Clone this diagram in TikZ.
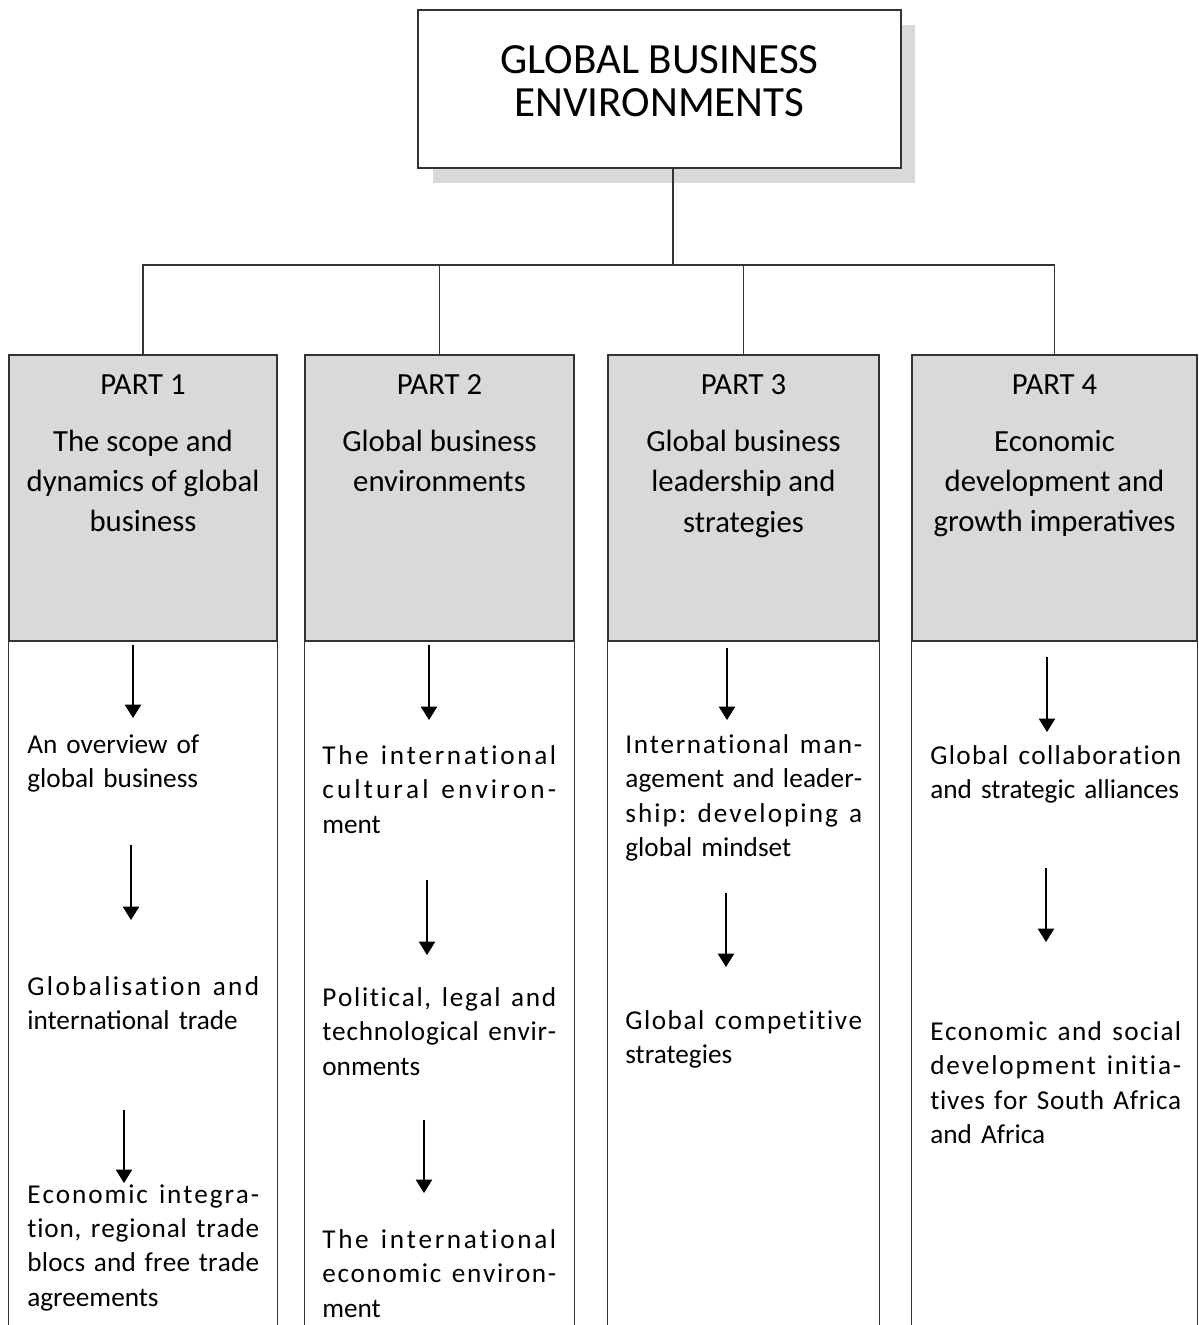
\documentclass[tikz,border=0pt]{standalone}
\usepackage{fontspec}
\setmainfont{Carlito}
\usetikzlibrary{positioning,arrows.meta,shadows}
\definecolor{hdrgray}{HTML}{D9D9D9}
\definecolor{rulegray}{HTML}{333333}
% spread a line over the column width, letters and words alike
\ExplSyntaxOn
\seq_new:N \l__gb_words_seq
\seq_new:N \l__gb_chars_seq
\seq_new:N \l__gb_out_seq
\cs_new_protected:Npn \gb_lglue: { \hskip~0pt~plus~1fil\relax }
\cs_new_protected:Npn \gb_wglue: { \hskip~0.3em~plus~1.5fil\relax }
\cs_new_protected:Npn \gb_spread:n #1
  {
    \seq_set_split:Nnn \l__gb_words_seq { ~ } {#1}
    \seq_clear:N \l__gb_out_seq
    \seq_map_inline:Nn \l__gb_words_seq
      {
        \seq_set_split:Nnn \l__gb_chars_seq { } {##1}
        \seq_put_right:Nx \l__gb_out_seq
          { \seq_use:Nn \l__gb_chars_seq { \gb_lglue: } }
      }
    \seq_use:Nn \l__gb_out_seq { \gb_wglue: }
  }
\NewDocumentCommand \jline { m } { \makebox[\itemw][s]{ \gb_spread:n {#1} } }
\ExplSyntaxOff
\newcommand{\itemw}{4cm}
\tikzset{
  titleb/.style={draw=rulegray, fill=white, line width=0.7pt, align=center,
    minimum width=9.66cm, minimum height=3.16cm, font=\fontsize{24.5}{24}\selectfont,
    drop shadow={fill=hdrgray, opacity=1, shadow xshift=0.29cm, shadow yshift=-0.3cm}},
  partb/.style={draw=rulegray, fill=hdrgray, line width=0.7pt, minimum height=5.72cm,
    inner sep=0pt},
  partt/.style={anchor=north, align=center, inner sep=0pt,
    font=\fontsize{17.5}{22.8}\selectfont},
  itemt/.style={anchor=north west, align=left, inner sep=0pt, text width=\itemw,
    font=\fontsize{15.5}{19.6}\selectfont},
  tree/.style={draw=rulegray, line width=0.7pt},
  down/.style={-{Triangle[length=0.27cm, width=0.33cm]}, line width=0.6pt, draw=black},
}

\begin{document}
\begin{tikzpicture}[x=0.02cm, y=-0.02cm]
    \useasboundingbox (0,0) rectangle (1198,1325);
    % top box
    \node[titleb] (title) at (659.5,89)
      {GLOBAL BUSINESS\\ ENVIRONMENTS\rule[-0.32cm]{0pt}{0.32cm}};
    % part headers
    \node[partb, minimum width=5.36cm] (part1) at (143,498) {};
    \node[partb, minimum width=5.38cm] (part2) at (439.5,498) {};
    \node[partb, minimum width=5.42cm] (part3) at (743.5,498) {};
    \node[partb, minimum width=5.70cm] (part4) at (1054.5,498) {};
    \foreach \p in {part1,part2,part3,part4} {
      \draw[tree] (\p.south west) -- ++(0,690);
      \draw[tree] (\p.south east) -- ++(0,690);
    }
    % tree
    \coordinate (hub) at (673,265);
    \draw[tree] (title.south -| hub) -- (hub);
    \draw[tree] (part1.north) |- (hub) -| (part4.north);
    \draw[tree] (part2.north) -- (part2.north |- hub);
    \draw[tree] (part3.north) -- (part3.north |- hub);
    % header texts
    \node[partt] (p1t) at (143,374) {PART 1\\[10pt] The scope and\\ dynamics of global\\ business};
    \node[partt] (p2t) at (439.5,374) {PART 2\\[10pt] Global business\\ environments};
    \node[partt] (p3t) at (743.5,374) {PART 3\\[10pt] Global business\\ leadership and\\ strategies};
    \node[partt] (p4t) at (1054.5,374) {PART 4\\[10pt] Economic\\ development and\\ growth imperatives};
    % part 1 items
    \renewcommand{\itemw}{4.64cm}
    \node[itemt] (i11) at (27,734) {An overview of\\ global business};
    \node[itemt] (i12) at (27,976) {\jline{Globalisation and}\\ international trade};
    \node[itemt] (i13) at (27,1184) {\jline{Economic integra-}\\ \jline{tion, regional trade}\\ \jline{blocs and free trade}\\ agreements};
    % part 2 items
    \renewcommand{\itemw}{4.68cm}
    \node[itemt] (i21) at (322,745) {\jline{The international}\\ \jline{cultural environ-}\\ ment};
    \node[itemt] (i22) at (322,987) {\jline{Political, legal and}\\ \jline{technological envir-}\\ onments};
    \node[itemt] (i23) at (322,1229) {\jline{The international}\\ \jline{economic environ-}\\ ment};
    % part 3 items
    \renewcommand{\itemw}{4.74cm}
    \node[itemt] (i31) at (625,734) {\jline{International man-}\\ \jline{agement and leader-}\\ \jline{ship: developing a}\\ global mindset};
    \node[itemt] (i32) at (625,1010) {\jline{Global competitive}\\ strategies};
    % part 4 items
    \renewcommand{\itemw}{5.02cm}
    \node[itemt] (i41) at (930,745) {\jline{Global collaboration}\\ and strategic alliances};
    \node[itemt] (i42) at (930,1021) {\jline{Economic and social}\\ \jline{development initia-}\\ \jline{tives for South Africa}\\ and Africa};
    % arrows
    \coordinate (a11) at (133,645);  \coordinate (b11) at (133,718);
    \coordinate (a12) at (131,845);  \coordinate (b12) at (131,920);
    \coordinate (a13) at (124,1110); \coordinate (b13) at (124,1183);
    \coordinate (a21) at (429,645);  \coordinate (b21) at (429,720);
    \coordinate (a22) at (427,880);  \coordinate (b22) at (427,955);
    \coordinate (a23) at (424,1120); \coordinate (b23) at (424,1193);
    \coordinate (a31) at (727,648);  \coordinate (b31) at (727,720);
    \coordinate (a32) at (726,893);  \coordinate (b32) at (726,967);
    \coordinate (a41) at (1047,657); \coordinate (b41) at (1047,732);
    \coordinate (a42) at (1046,868); \coordinate (b42) at (1046,942);
    \foreach \n in {11,12,13,21,22,23,31,32,41,42}
      \draw[down] (a\n) -- (b\n);
  \end{tikzpicture}
\end{document}
